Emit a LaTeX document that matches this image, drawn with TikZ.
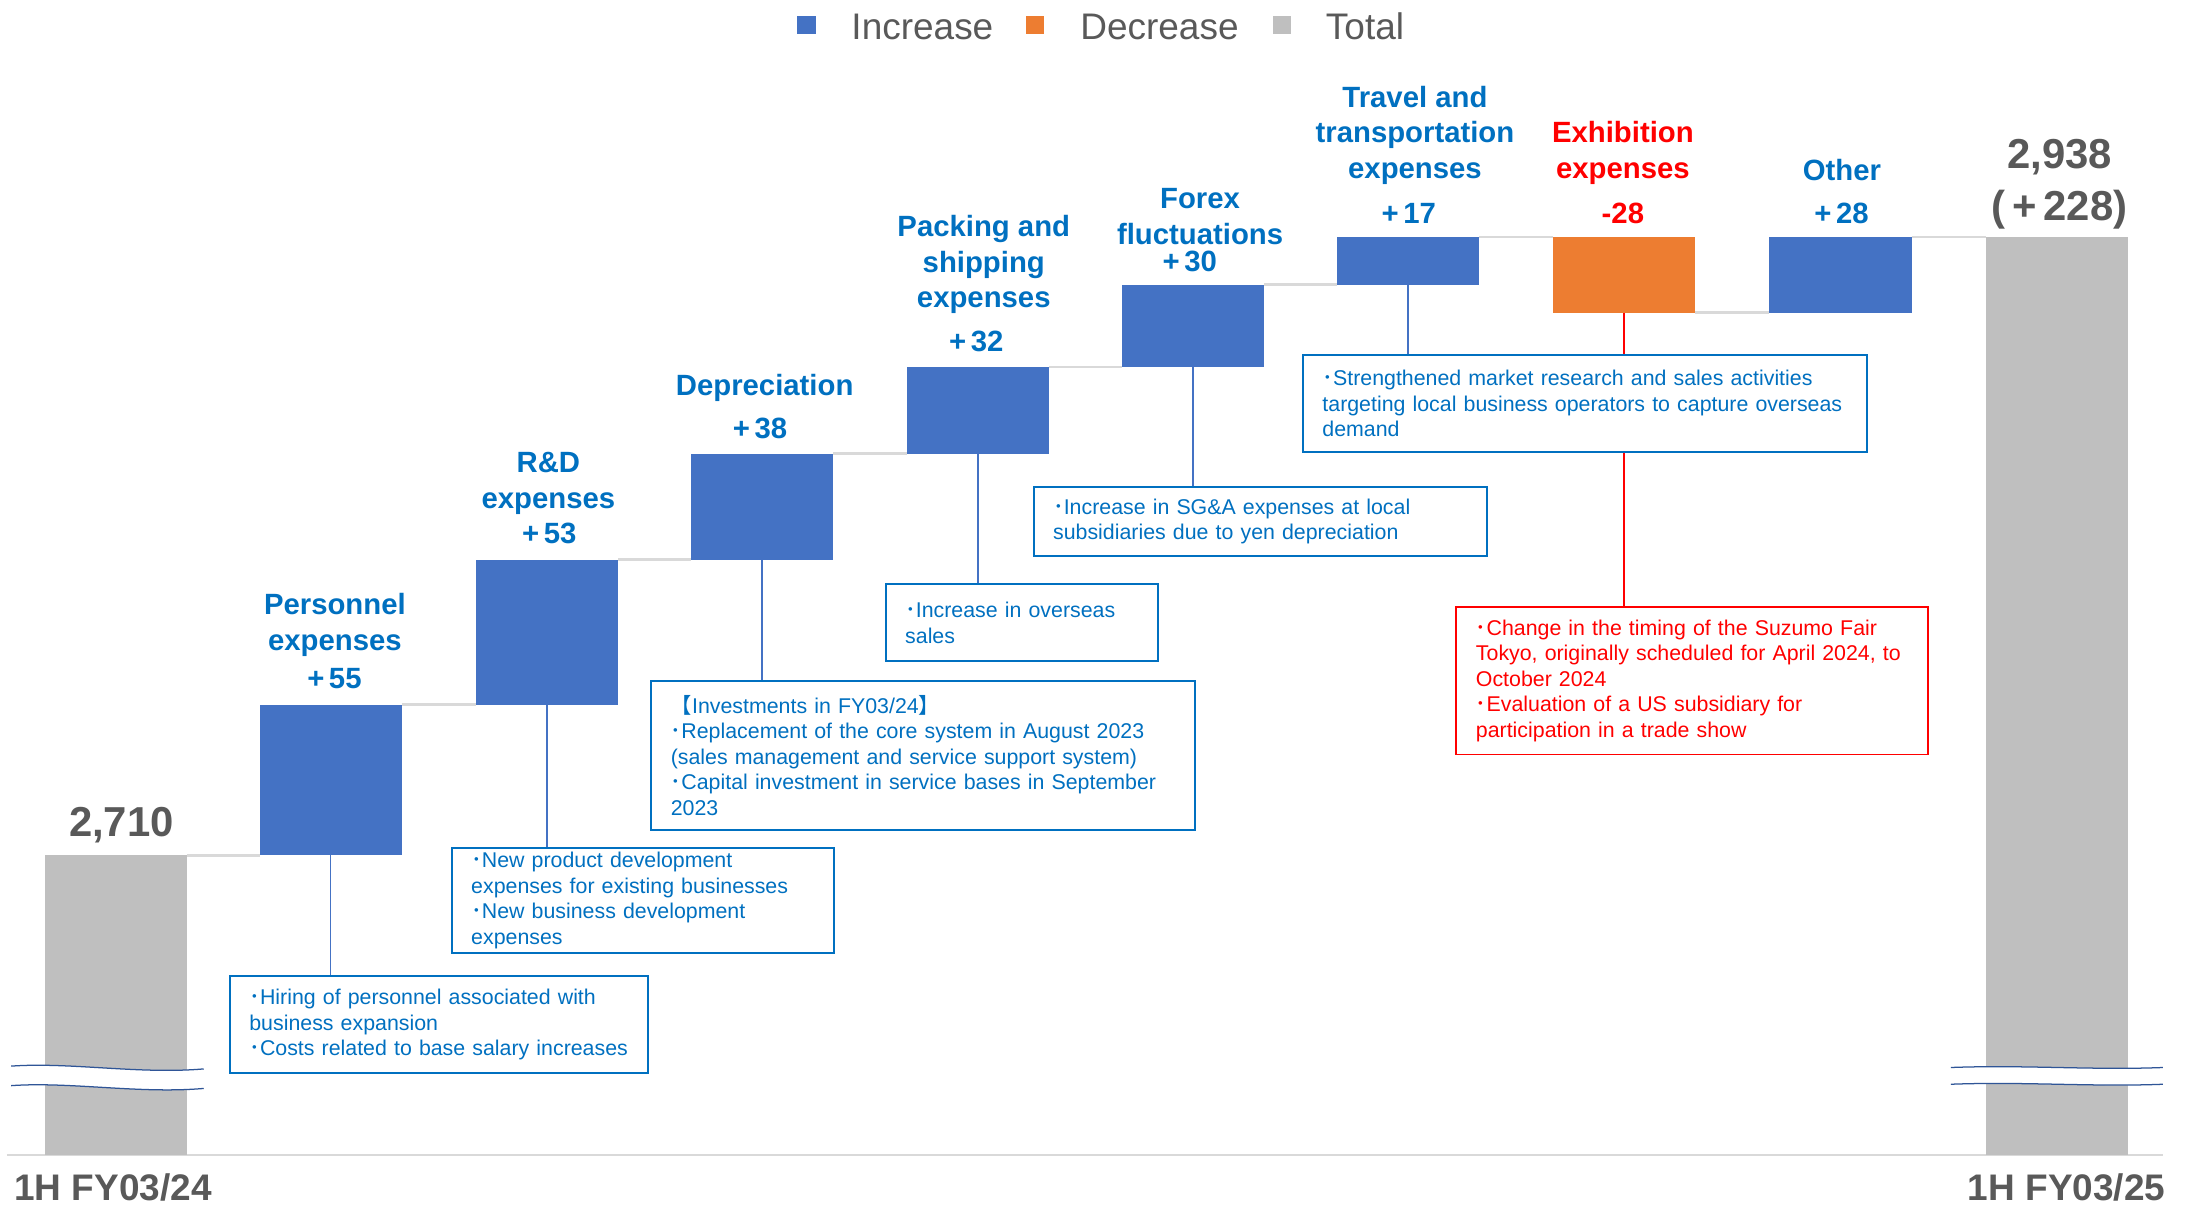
\documentclass[tikz,border=0pt]{standalone}
\usepackage{fontspec}
\setmainfont{Liberation Sans}
\newfontfamily\cjkfont{Noto Sans CJK JP}
\newcommand\bul{{\cjkfont ･}}
\newcommand\fwplus{\makebox[0.9em]{+}}
\definecolor{barblue}{HTML}{4472C4}
\definecolor{barorange}{HTML}{ED7D31}
\definecolor{bargrey}{HTML}{BFBFBF}
\definecolor{lblue}{HTML}{0070C0}
\definecolor{rred}{HTML}{FF0000}
\definecolor{txtgrey}{HTML}{595959}
\definecolor{stepgrey}{HTML}{D9D9D9}
\definecolor{wave}{HTML}{2F5597}
\begin{document}
\begin{tikzpicture}[x=1pt,y=-1pt,
  bar/.style={rectangle, inner sep=0pt, outer sep=0pt, minimum width=102pt, anchor=south west},
  stepline/.style={draw=stepgrey, line width=1.8pt},
  link/.style={draw=barblue, line width=1.1pt},
  redlink/.style={draw=rred, line width=1.3pt},
  callout/.style={rectangle, draw=lblue, line width=1.4pt, fill=white, text=lblue, inner xsep=14pt, inner ysep=0pt, align=left, anchor=north west, font=\fontsize{15.3}{18.3}\selectfont},
  redcallout/.style={callout, draw=rred, text=rred},
  cat/.style={text=lblue, font=\bfseries\fontsize{21}{25.5}\selectfont, align=center, inner sep=0pt},
  total/.style={text=txtgrey, font=\bfseries\fontsize{30}{37}\selectfont, inner sep=0pt, align=center},
  axislbl/.style={text=txtgrey, font=\bfseries\fontsize{26.5}{30}\selectfont, inner sep=0pt},
  legtext/.style={text=txtgrey, font=\fontsize{26.5}{30}\selectfont, inner sep=0pt, anchor=west},
  legbox/.style={rectangle, minimum size=13pt, inner sep=0pt}
]
\useasboundingbox[fill=white] (0,0) rectangle (1568,863);

% legend
\node[legbox, fill=barblue] (lg1) at (578,18) {};
\node[legtext] (lt1) at (610,19) {Increase};
\node[legbox, fill=barorange] (lg2) at (742,18) {};
\node[legtext] (lt2) at (774,19) {Decrease};
\node[legbox, fill=bargrey] (lg3) at (919,18) {};
\node[legtext] (lt3) at (950,19) {Total};

% baseline
\coordinate (bl0) at (5,828);
\coordinate (bl1) at (1550,828);
\draw[stepgrey, line width=1.5pt] (bl0) -- (bl1);

% bars
\node[bar, fill=bargrey, minimum height=215pt] (b0) at (32,828) {};
\node[bar, fill=barblue, minimum height=108pt] (b1) at (186,613) {};
\node[bar, fill=barblue, minimum height=104pt] (b2) at (341,505) {};
\node[bar, fill=barblue, minimum height=76pt] (b3) at (495,401) {};
\node[bar, fill=barblue, minimum height=62pt] (b4) at (650,325) {};
\node[bar, fill=barblue, minimum height=59pt] (b5) at (804,263) {};
\node[bar, fill=barblue, minimum height=34pt] (b6) at (958,204) {};
\node[bar, fill=barorange, minimum height=54pt] (b7) at (1113,224) {};
\node[bar, fill=barblue, minimum height=54pt] (b8) at (1268,224) {};
\node[bar, fill=bargrey, minimum height=658pt] (b9) at (1423,828) {};

% step lines
\draw[stepline] (b0.north east) -- (b1.south west);
\draw[stepline] (b1.north east) -- (b2.south west);
\draw[stepline] (b2.north east) -- (b3.south west);
\draw[stepline] (b3.north east) -- (b4.south west);
\draw[stepline] (b4.north east) -- (b5.south west);
\draw[stepline] (b5.north east) -- (b6.south west);
\draw[stepline] (b6.north east) -- (b7.north west);
\draw[stepline] (b7.south east) -- (b8.south west);
\draw[stepline] (b8.north east) -- (b9.north west);

% break marks
\fill[white] (8,764) .. controls (50,761) and (100,770) .. (146,766) -- (146,780) .. controls (100,784) and (50,775) .. (8,778) -- cycle;
\draw[wave, line width=0.9pt] (8,764) .. controls (50,761) and (100,770) .. (146,766);
\draw[wave, line width=0.9pt] (8,778) .. controls (50,775) and (100,784) .. (146,780);
\fill[white] (1398,765) .. controls (1450,763) and (1500,767) .. (1550,765) -- (1550,777) .. controls (1500,779) and (1450,775) .. (1398,777) -- cycle;
\draw[wave, line width=0.9pt] (1398,765) .. controls (1450,763) and (1500,767) .. (1550,765);
\draw[wave, line width=0.9pt] (1398,777) .. controls (1450,775) and (1500,779) .. (1550,777);

% callouts (placed, connectors drawn behind them)
\node[callout, text width=272pt, minimum height=69pt] (cA) at (164,699)
  {\bul Hiring of personnel associated with\\business expansion\\\bul Costs related to base salary increases};
\node[callout, text width=246pt, minimum height=75pt] (cB) at (323,607)
  {\bul New product development\\expenses for existing businesses\\\bul New business development\\expenses};
\node[callout, text width=362pt, minimum height=107pt] (cC) at (466,487)
  {{\cjkfont 【}Investments in FY03/24{\cjkfont 】}\\\bul Replacement of the core system in August 2023\\(sales management and service support system)\\\bul Capital investment in service bases in September\\2023};
\node[callout, text width=167pt, minimum height=55pt] (cD) at (634,418)
  {\bul Increase in overseas\\sales};
\node[callout, text width=297pt, minimum height=50pt] (cE) at (740,348)
  {\bul Increase in SG\&A expenses at local\\subsidiaries due to yen depreciation};
\node[redcallout, text width=310pt, minimum height=106pt] (cG) at (1043,434)
  {\bul Change in the timing of the Suzumo Fair\\Tokyo, originally scheduled for April 2024, to\\October 2024\\\bul Evaluation of a US subsidiary for\\participation in a trade show};

% connectors
\draw[link] (b1.south) -- (b1.south |- cA.north);
\draw[link] (b2.south) -- (b2.south |- cB.north);
\draw[link] (b3.south) -- (b3.south |- cC.north);
\draw[link] (b4.south) -- (b4.south |- cD.north);
\draw[link] (b5.south) -- (b5.south |- cE.north);
\draw[redlink] (b7.south) -- (b7.south |- cG.north);

\node[callout, text width=376pt, minimum height=69pt] (cF) at (933,254)
  {\bul Strengthened market research and sales activities\\targeting local business operators to capture overseas\\demand};
\draw[link] (b6.south) -- (b6.south |- cF.north);

% category labels
\node[cat] (n1) at (240,448) {Personnel\\expenses};
\node[cat] (v1) at (238,486) {\fwplus 55};
\node[cat] (n2) at (393,346.5) {R\&D\\expenses};
\node[cat] (v2) at (392,382) {\fwplus 53};
\node[cat] (n3) at (548,278) {Depreciation};
\node[cat] (v3) at (543,307) {\fwplus 38};
\node[cat] (n4) at (705,189.5) {Packing and\\shipping\\expenses};
\node[cat] (v4) at (698,245) {\fwplus 32};
\node[cat] (n5) at (860,155) {Forex\\fluctuations};
\node[cat] (v5) at (851,187) {\fwplus 30};
\node[cat] (n6) at (1014,97) {Travel and\\transportation\\expenses};
\node[cat] (v6) at (1008,153) {\fwplus 17};
\node[cat, text=rred] (n7) at (1163,109.5) {Exhibition\\expenses};
\node[cat, text=rred] (v7) at (1163,153) {-28};
\node[cat] (n8) at (1320,122) {Other};
\node[cat] (v8) at (1318,153) {\fwplus 28};

% totals
\node[total] (t0) at (87,591) {2,710};
\node[total] (t9) at (1476,132) {2,938\\(\fwplus 228)};

% axis labels
\node[axislbl] (a0) at (81,851) {1H FY03/24};
\node[axislbl] (a9) at (1481,851) {1H FY03/25};
\end{tikzpicture}
\end{document}
